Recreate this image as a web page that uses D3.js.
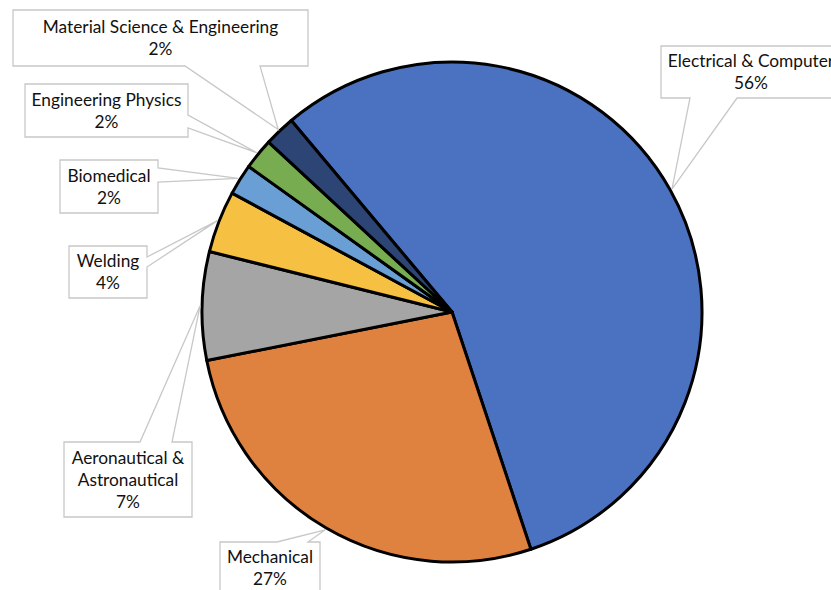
<!DOCTYPE html>
<html>
<head>
<meta charset="utf-8">
<script src="https://cdn.jsdelivr.net/npm/d3@7"></script>
<style>
  body { margin: 0; background: #fff; }
  svg { display: block; font-family: Lato, 'Open Sans', sans-serif; }
</style>
</head>
<body>
<div id="chart"></div>
<script>
const categories = ['Electrical & Computer', 'Mechanical', 'Aeronautical & Astronautical', 'Welding', 'Biomedical', 'Engineering Physics', 'Material Science & Engineering']
const shares = [56, 27, 7, 4, 2, 2, 2]
const labelLines = [
  ['Electrical & Computer'],
  ['Mechanical'],
  ['Aeronautical &', 'Astronautical'],
  ['Welding'],
  ['Biomedical'],
  ['Engineering Physics'],
  ['Material Science & Engineering']
]
const colors = ['#4a72c0', '#e0823f', '#a5a5a5', '#f6c142', '#6a9fd6', '#78ac51', '#2d4574']

// callout box layout (x, y, w, h, side the pointer leaves from, pointer base)
const boxes = [
  { x: 661, y: 46, w: 180, h: 52, side: 'bottom', b: [690, 737] },
  { x: 220, y: 542, w: 100, h: 52, side: 'top', b: [277, 308] },
  { x: 64, y: 442, w: 128, h: 75, side: 'top', b: [140, 172] },
  { x: 69, y: 246, w: 78, h: 52, side: 'right', b: [257, 267] },
  { x: 60, y: 160, w: 98, h: 53, side: 'right', b: [168, 182] },
  { x: 25, y: 84, w: 163, h: 53, side: 'right', b: [115, 128] },
  { x: 13, y: 10, w: 295, h: 56, side: 'bottom', b: [185, 260] }
]

const width = 831
const height = 590
const cx = 452
const cy = 312
const radius = 250

const svg = d3.select('#chart')
  .append('svg')
  .attr('width', width)
  .attr('height', height)

const startAngle = -40 * Math.PI / 180
const pie = d3.pie()
  .sort(null)
  .value((d) => d)
  .startAngle(startAngle)
  .endAngle(startAngle + 2 * Math.PI)
const arcs = pie(shares)
const arc = d3.arc().innerRadius(0).outerRadius(radius)
const tipArc = d3.arc().innerRadius(radius + 2).outerRadius(radius + 2)

const g = svg.append('g').attr('transform', `translate(${cx}, ${cy})`)
g.selectAll('.slice')
  .data(arcs)
  .enter()
  .append('path')
  .attr('class', 'slice')
  .attr('d', arc)
  .attr('fill', (d, i) => colors[i])
  .attr('stroke', '#000')
  .attr('stroke-width', 3)
  .attr('stroke-linejoin', 'round')

// callouts
const calloutPath = (box, tip) => {
  const { x, y, w, h, side, b } = box
  const [tx, ty] = tip
  if (side === 'bottom') {
    return `M${x},${y}H${x + w}V${y + h}H${b[1]}L${tx},${ty}L${b[0]},${y + h}H${x}Z`
  }
  if (side === 'top') {
    return `M${x},${y}H${b[0]}L${tx},${ty}L${b[1]},${y}H${x + w}V${y + h}H${x}Z`
  }
  // right
  return `M${x},${y}H${x + w}V${b[0]}L${tx},${ty}L${x + w},${b[1]}V${y + h}H${x}Z`
}

const labels = svg.selectAll('.callout')
  .data(arcs)
  .enter()
  .append('g')
  .attr('class', 'callout')

labels.append('path')
  .attr('d', (d, i) => {
    const [px, py] = tipArc.centroid(d)
    return calloutPath(boxes[i], [px + cx, py + cy])
  })
  .attr('fill', '#fff')
  .attr('stroke', '#c8c8c8')
  .attr('stroke-width', 1.3)

labels.each(function (d, i) {
  const box = boxes[i]
  const lines = labelLines[i].concat([`${shares[i]}%`])
  const lineH = 22
  const top = box.y + box.h / 2 - (lines.length * lineH) / 2
  const text = d3.select(this)
    .append('text')
    .attr('text-anchor', 'middle')
    .attr('font-size', 17.3)
    .attr('fill', '#111')
  lines.forEach((line, j) => {
    text.append('tspan')
      .attr('x', box.x + box.w / 2)
      .attr('y', top + j * lineH + 17)
      .text(line)
  })
})
</script>
</body>
</html>
